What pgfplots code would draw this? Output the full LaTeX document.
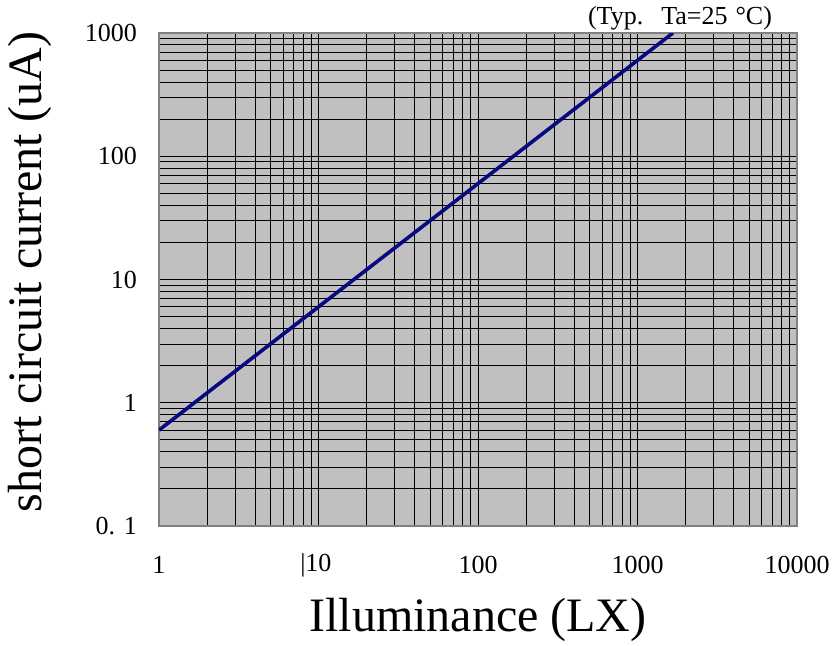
\documentclass[border=0pt]{standalone}
\usepackage{fontspec}
\setmainfont{Liberation Serif}
\usepackage{pgfplots}
\pgfplotsset{compat=1.18}
\definecolor{bg}{RGB}{192,192,192}
\definecolor{frame}{RGB}{128,128,128}
\definecolor{navyline}{RGB}{8,8,128}
\begin{document}
\begin{tikzpicture}
\path[use as bounding box] (-159pt,-119pt) rectangle (678pt,526pt);
\begin{axis}[
  at={(0,0)}, anchor=south west,
  scale only axis, width=638pt, height=493pt,
  xmode=log, ymode=log,
  xmin=1, xmax=10000, ymin=0.1, ymax=1000,
  xtick={1,10,100,1000,10000},
  xticklabels={1,{\llap{|}10},100,1000,10000},
  ytick={0.1,1,10,100,1000},
  yticklabels={{0. 1},1,10,100,1000},
  minor xtick={2,3,4,5,6,7,8,9,20,30,40,50,60,70,80,90,200,300,400,500,600,700,800,900,2000,3000,4000,5000,6000,7000,8000,9000},
  minor ytick={0.2,0.3,0.4,0.5,0.6,0.7,0.8,0.9,2,3,4,5,6,7,8,9,20,30,40,50,60,70,80,90,200,300,400,500,600,700,800,900},
  xticklabel style={font=\fontsize{26}{30}\selectfont, anchor=center, yshift=-39pt},
  yticklabel style={font=\fontsize{26}{30}\selectfont, anchor=east, inner sep=0pt, xshift=-22pt},
  grid=both,
  major grid style={black, line width=0.9pt},
  minor grid style={black, line width=0.9pt},
  major tick length=0pt, minor tick length=0pt,
  axis background/.style={fill=bg},
  axis line style={frame, line width=1.5pt},
]
\addplot[navyline, line width=3.6pt] coordinates {(1,0.6) (1667,1000)};
\end{axis}
\node[font=\fontsize{48}{52}\selectfont] at (319pt,-94pt) {Illuminance (LX)};
\node[font=\fontsize{48}{52}\selectfont, rotate=90] at (-129pt,254pt) {short circuit current (uA)};
\node[font=\fontsize{26}{30}\selectfont] at (521pt,508pt) {(Typ.\hspace{18pt}Ta=25\hspace{8pt}°C)};
\end{tikzpicture}
\end{document}
